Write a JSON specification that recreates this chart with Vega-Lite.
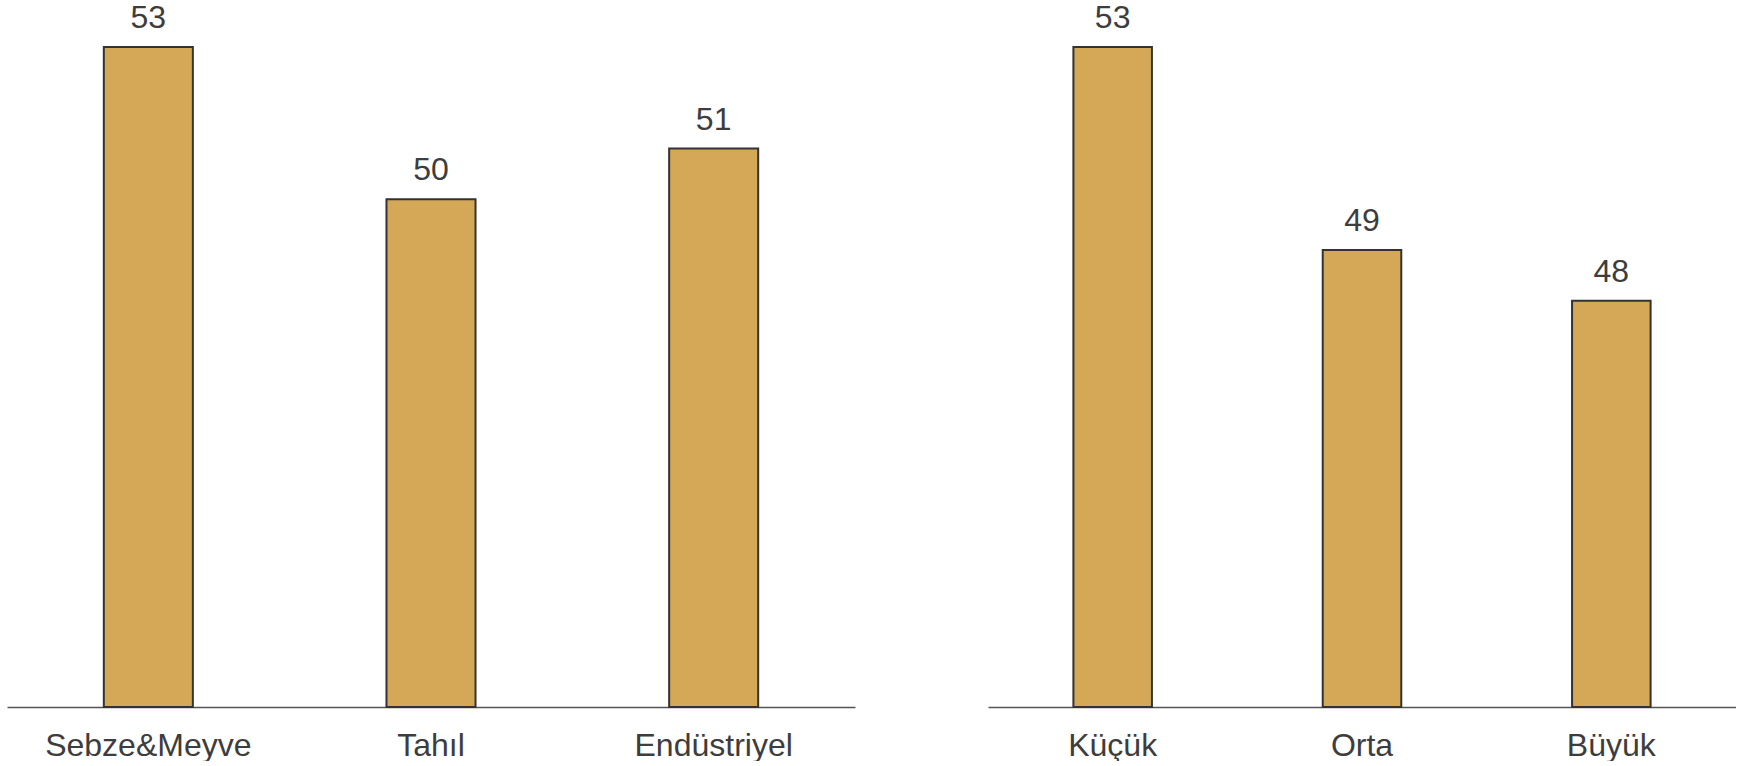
{
  "$schema": "https://vega.github.io/schema/vega-lite/v6.json",
  "padding": {"left": 7, "top": 2, "right": 0, "bottom": 0},
  "spacing": 133,
  "bounds": "flush",
  "config": {
    "view": {"stroke": null},
    "font": "Liberation Sans",
    "axisX": {
      "domainColor": "#555555",
      "domainWidth": 1.5,
      "ticks": false,
      "tickSize": 0,
      "labelPadding": 48,
      "labelBaseline": "alphabetic",
      "labelFontSize": 32,
      "labelColor": "#3d3d3d",
      "labelAngle": 0,
      "labelLimit": 0,
      "title": null,
      "grid": false,
      "labelFont": "Liberation Sans"
    }
  },
  "datasets": {
    "crop": [
      {"kategori": "Sebze&Meyve", "deger": 53},
      {"kategori": "Tahıl", "deger": 50},
      {"kategori": "Endüstriyel", "deger": 51}
    ],
    "size": [
      {"kategori": "Küçük", "deger": 53},
      {"kategori": "Orta", "deger": 49},
      {"kategori": "Büyük", "deger": 48}
    ]
  },
  "hconcat": [
    {
      "width": 848,
      "height": 660,
      "data": {"name": "crop"},
      "encoding": {
        "x": {"field": "kategori", "type": "nominal", "sort": null, "scale": {"paddingInner": 0.685, "paddingOuter": 0.3425}, "axis": {"title": null}},
        "y": {"field": "deger", "type": "quantitative", "scale": {"domain": [40, 53], "zero": false, "nice": false}, "axis": null}
      },
      "layer": [
        {"mark": {"type": "bar", "fill": "#D4A857", "stroke": "#333333", "strokeWidth": 2, "clip": false}, "encoding": {"y2": {"datum": 40}}},
        {"mark": {"type": "text", "baseline": "alphabetic", "dy": -19, "fontSize": 32, "color": "#3d3d3d", "font": "Liberation Sans"}, "encoding": {"text": {"field": "deger", "type": "quantitative"}}}
      ]
    },
    {
      "width": 748,
      "height": 660,
      "data": {"name": "size"},
      "encoding": {
        "x": {"field": "kategori", "type": "nominal", "sort": null, "scale": {"paddingInner": 0.685, "paddingOuter": 0.3425}, "axis": {"title": null}},
        "y": {"field": "deger", "type": "quantitative", "scale": {"domain": [40, 53], "zero": false, "nice": false}, "axis": null}
      },
      "layer": [
        {"mark": {"type": "bar", "fill": "#D4A857", "stroke": "#333333", "strokeWidth": 2, "clip": false}, "encoding": {"y2": {"datum": 40}}},
        {"mark": {"type": "text", "baseline": "alphabetic", "dy": -19, "fontSize": 32, "color": "#3d3d3d", "font": "Liberation Sans"}, "encoding": {"text": {"field": "deger", "type": "quantitative"}}}
      ]
    }
  ],
  "resolve": {"scale": {"x": "independent", "y": "independent"}}
}
